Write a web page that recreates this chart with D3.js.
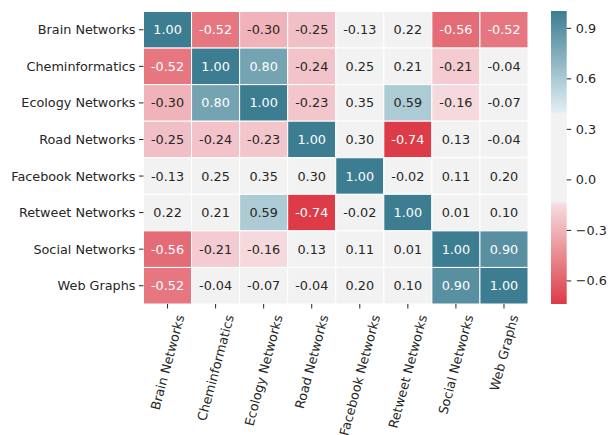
<!DOCTYPE html>
<html>
<head>
<meta charset="utf-8">
<script src="https://cdn.jsdelivr.net/npm/d3@7"></script>
<style>
  body { margin: 0; background: #fff; }
  svg text { font-family: "DejaVu Sans", sans-serif; }
</style>
</head>
<body>
<div id="app"></div>
<script>
// Categories (same for rows and columns)
const labels = [
  "Brain Networks",
  "Cheminformatics",
  "Ecology Networks",
  "Road Networks",
  "Facebook Networks",
  "Retweet Networks",
  "Social Networks",
  "Web Graphs"
];

// Correlation values, one row per label
const brain = [1.0, -0.52, -0.3, -0.25, -0.13, 0.22, -0.56, -0.52];
const chem = [-0.52, 1.0, 0.8, -0.24, 0.25, 0.21, -0.21, -0.04];
const ecology = [-0.3, 0.8, 1.0, -0.23, 0.35, 0.59, -0.16, -0.07];
const road = [-0.25, -0.24, -0.23, 1.0, 0.3, -0.74, 0.13, -0.04];
const facebook = [-0.13, 0.25, 0.35, 0.3, 1.0, -0.02, 0.11, 0.2];
const retweet = [0.22, 0.21, 0.59, -0.74, -0.02, 1.0, 0.01, 0.1];
const social = [-0.56, -0.21, -0.16, 0.13, 0.11, 0.01, 1.0, 0.9];
const web = [-0.52, -0.04, -0.07, -0.04, 0.2, 0.1, 0.9, 1.0];

// Colorbar ticks
const cbarTicks = [-0.6, -0.3, 0.0, 0.3, 0.6, 0.9];

const rows = [brain, chem, ecology, road, facebook, retweet, social, web];
const cells = [];
rows.forEach((r, i) =>
  r.forEach((v, j) => cells.push({ row: labels[i], col: labels[j], value: v }))
);

const width = 608;
const height = 435;
const vmin = d3.min(cells, (d) => d.value);
const vmax = d3.max(cells, (d) => d.value);
const textColor = "#262626";
const fontSize = 12.8;

// Diverging colormap: red -> light pink | gray band | light blue -> teal
const color = d3
  .scaleLinear()
  .domain([vmin, -0.145, -0.13, 0.39, 0.405, vmax])
  .range(["#dc3b47", "#f6dde1", "#f2f2f2", "#f2f2f2", "#e0eef2", "#3d7d91"])
  .interpolate(d3.interpolateRgb);

const svg = d3
  .select("#app")
  .append("svg")
  .attr("width", width)
  .attr("height", height)
  .style("background", "#fff");

const x = d3.scaleBand().domain(labels).range([143.5, 528]);
const y = d3.scaleBand().domain(labels).range([11.5, 304]);

// Cells
svg
  .selectAll("rect.cell")
  .data(cells)
  .enter()
  .append("rect")
  .attr("class", "cell")
  .attr("x", (d) => x(d.col))
  .attr("y", (d) => y(d.row))
  .attr("width", x.bandwidth())
  .attr("height", y.bandwidth())
  .attr("fill", (d) => color(d.value))
  .attr("stroke", "#fff")
  .attr("stroke-width", 1);

// Annotations (light text on dark cells)
function luminance(c) {
  const rgb = d3.rgb(c);
  const f = (v) => {
    v /= 255;
    return v <= 0.03928 ? v / 12.92 : Math.pow((v + 0.055) / 1.055, 2.4);
  };
  return 0.2126 * f(rgb.r) + 0.7152 * f(rgb.g) + 0.0722 * f(rgb.b);
}

svg
  .selectAll("text.annot")
  .data(cells)
  .enter()
  .append("text")
  .attr("class", "annot")
  .attr("x", (d) => x(d.col) + x.bandwidth() / 2)
  .attr("y", (d) => y(d.row) + y.bandwidth() / 2)
  .attr("text-anchor", "middle")
  .attr("dominant-baseline", "central")
  .style("font-size", fontSize + "px")
  .attr("fill", (d) => (luminance(color(d.value)) > 0.408 ? textColor : "#fff"))
  .text((d) => d.value.toFixed(2));

// Y axis
const yAxis = svg
  .append("g")
  .attr("transform", `translate(${143.5}, 0)`)
  .call(d3.axisLeft(y).tickSize(4.5).tickPadding(3.5));
yAxis.select(".domain").remove();
yAxis.selectAll(".tick line").attr("stroke", textColor).attr("stroke-width", 1);
yAxis
  .selectAll(".tick text")
  .attr("fill", textColor)
  .style("font-size", fontSize + "px")
  .style("font-family", "DejaVu Sans")
  .attr("dy", null)
  .attr("dominant-baseline", "central");

// X axis ticks
const xAxis = svg
  .append("g")
  .attr("transform", `translate(0, ${304})`)
  .call(d3.axisBottom(x).tickSize(4.5).tickFormat(""));
xAxis.select(".domain").remove();
xAxis.selectAll(".tick line").attr("stroke", textColor).attr("stroke-width", 1);

// X labels rotated 75 degrees, rotated box centred under tick
labels.forEach((lab) => {
  const g = svg.append("g");
  g.append("text")
    .attr("transform", "rotate(-75)")
    .attr("text-anchor", "middle")
    .attr("dominant-baseline", "central")
    .attr("fill", textColor)
    .style("font-size", fontSize + "px")
    .text(lab);
  const bb = g.node().getBBox();
  const cx = x(lab) + x.bandwidth() / 2;
  g.attr(
    "transform",
    `translate(${cx - (bb.x + bb.width / 2)}, ${313 - bb.y})`
  );
});

// Colorbar
const cbX = 551;
const cbW = 15.7;
const cbScale = d3.scaleLinear().domain([vmin, vmax]).range([304, 11]);

const defs = svg.append("defs");
const grad = defs
  .append("linearGradient")
  .attr("id", "cbar")
  .attr("x1", 0)
  .attr("y1", 1)
  .attr("x2", 0)
  .attr("y2", 0);
grad
  .selectAll("stop")
  .data(d3.range(0, 201).map((i) => vmin + (i / 200) * (vmax - vmin)))
  .enter()
  .append("stop")
  .attr("offset", (d) => (d - vmin) / (vmax - vmin))
  .attr("stop-color", (d) => color(d));

svg
  .append("rect")
  .attr("x", cbX)
  .attr("y", cbScale(vmax))
  .attr("width", cbW)
  .attr("height", cbScale(vmin) - cbScale(vmax))
  .attr("fill", "url(#cbar)");

const cbAxis = svg
  .append("g")
  .attr("transform", `translate(${cbX + cbW}, 0)`)
  .call(
    d3
      .axisRight(cbScale)
      .tickValues(cbarTicks)
      .tickSize(4.5)
      .tickPadding(4.5)
      .tickFormat(d3.format(".1f"))
  );
cbAxis.select(".domain").remove();
cbAxis.selectAll(".tick line").attr("stroke", textColor);
cbAxis
  .selectAll(".tick text")
  .attr("fill", textColor)
  .style("font-size", fontSize + "px")
  .style("font-family", "DejaVu Sans")
  .attr("dy", null)
  .attr("dominant-baseline", "central");
</script>
</body>
</html>
